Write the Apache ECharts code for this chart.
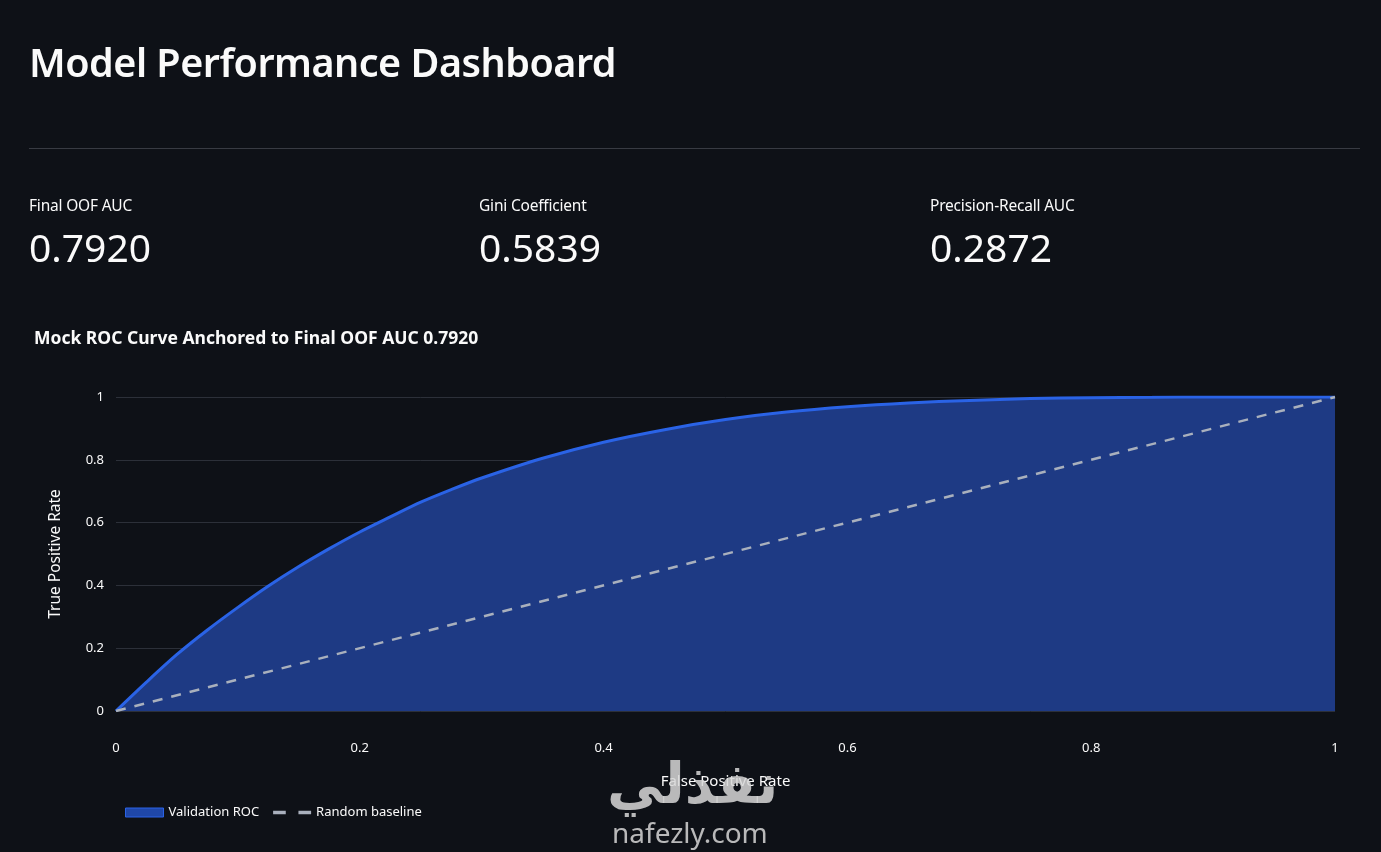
<!DOCTYPE html>
<html>
<head>
<meta charset="utf-8">
<script src="https://cdn.jsdelivr.net/npm/echarts@6/dist/echarts.min.js"></script>
<style>
  html, body { margin: 0; padding: 0; background: #0e1117; width: 1381px; height: 852px; overflow: hidden; }
  body { font-family: "Noto Sans", "Open Sans", sans-serif; color: #fafafa; position: relative; }
  #title { position: absolute; left: 29px; top: 35px; font-size: 39.5px; font-weight: 600; letter-spacing: -0.5px; white-space: nowrap; }
  #rule { position: absolute; left: 29px; top: 148px; width: 1331px; height: 1px; background: #383b43; }
  .metric { position: absolute; top: 194px; }
  .metric .lbl { font-size: 15.5px; line-height: 22px; letter-spacing: -0.2px; }
  .metric .val { font-size: 39px; line-height: 50px; margin-top: 6px; font-weight: 400; }
  #chart { position: absolute; left: 0; top: 0; width: 1381px; height: 852px; }
</style>
</head>
<body>
<div id="chart"></div>
<div id="title">Model Performance Dashboard</div>
<div id="rule"></div>
<div id="metrics"></div>
<script>
// ---- data ----
const metricLabels = ["Final OOF AUC", "Gini Coefficient", "Precision-Recall AUC"];
const metricValues = ["0.7920", "0.5839", "0.2872"];
const chartTitle = "Mock ROC Curve Anchored to Final OOF AUC 0.7920";
const fpr = [0, 0.025, 0.05, 0.075, 0.1, 0.125, 0.15, 0.175, 0.2, 0.225, 0.25, 0.275, 0.3, 0.35, 0.4, 0.45, 0.5, 0.55, 0.6, 0.65, 0.7, 0.75, 0.8, 0.85, 0.9, 0.95, 1];
const tpr = [0, 0.092, 0.18, 0.258, 0.33, 0.398, 0.46, 0.517, 0.57, 0.618, 0.665, 0.705, 0.742, 0.805, 0.856, 0.896, 0.928, 0.952, 0.969, 0.981, 0.989, 0.995, 0.998, 0.999, 1.0, 1.0, 1.0];
const baselineX = [0, 1];
const baselineY = [0, 1];
const seriesNames = ["Validation ROC", "Random baseline"];
const xAxisName = "False Positive Rate";
const yAxisName = "True Positive Rate";
const watermarkAr = "نفذلي";
const watermarkEn = "nafezly.com";

// ---- metrics (HTML) ----
const metricLefts = [29, 479, 930];
const mc = document.getElementById('metrics');
metricLabels.forEach((l, i) => {
  const d = document.createElement('div');
  d.className = 'metric';
  d.style.left = metricLefts[i] + 'px';
  d.innerHTML = '<div class="lbl"></div><div class="val"></div>';
  d.querySelector('.lbl').textContent = l;
  d.querySelector('.val').textContent = metricValues[i];
  mc.appendChild(d);
});

// ---- chart ----
const chart = echarts.init(document.getElementById('chart'), null, { renderer: 'canvas' });
const txt = '#fafafa';
const font = '"Noto Sans", "Open Sans", sans-serif';
const dashColor = '#a9b0bd';
chart.setOption({
  backgroundColor: 'transparent',
  animation: false,
  textStyle: { fontFamily: font },
  title: {
    text: chartTitle, left: 29, top: 325,
    textStyle: { color: txt, fontSize: 17.5, fontWeight: 'bold', fontFamily: font }
  },
  grid: { left: 116, right: 46, top: 397, bottom: 141, containLabel: false },
  legend: {
    left: 120, top: 801, itemGap: 14, itemWidth: 38, itemHeight: 9,
    textStyle: { color: txt, fontSize: 13, fontFamily: font },
    data: [
      { name: seriesNames[0], icon: 'rect', itemStyle: { color: '#1f47a8', borderColor: '#2a63e6', borderWidth: 1 } },
      { name: seriesNames[1], icon: 'path://M0,0H11V3H0Z M22,0H33V3H22Z', itemStyle: { color: dashColor, borderWidth: 0 } }
    ]
  },
  xAxis: {
    type: 'value', min: 0, max: 1, interval: 0.2,
    name: xAxisName, nameLocation: 'middle', nameGap: 63,
    nameTextStyle: { color: txt, fontSize: 15 },
    axisLine: { show: false }, axisTick: { show: false },
    splitLine: { show: false },
    axisLabel: { color: txt, fontSize: 13, margin: 31 }
  },
  yAxis: {
    type: 'value', min: 0, max: 1, interval: 0.2,
    name: yAxisName, nameLocation: 'middle', nameGap: 52,
    nameTextStyle: { color: txt, fontSize: 15.5 },
    axisLine: { show: false }, axisTick: { show: false },
    splitLine: { show: true, lineStyle: { color: '#2c3039', width: 1 } },
    axisLabel: { color: txt, fontSize: 13, margin: 12 }
  },
  series: [
    {
      name: seriesNames[0], type: 'line', showSymbol: false, symbol: 'none',
      smooth: 0.3,
      data: fpr.map((x, i) => [x, tpr[i]]),
      lineStyle: { color: '#2a63e6', width: 3 },
      itemStyle: { color: '#2a63e6' },
      areaStyle: { color: '#1e3a84', opacity: 1 },
      z: 2
    },
    {
      name: seriesNames[1], type: 'line', showSymbol: false, symbol: 'none',
      data: baselineX.map((x, i) => [x, baselineY[i]]),
      lineStyle: { color: dashColor, width: 2.5, type: [10, 9] },
      itemStyle: { color: dashColor },
      z: 3
    }
  ],
  graphic: [
    { type: 'text', left: 607, top: 760, z: 10, silent: true,
      style: { text: watermarkAr, fill: 'rgba(215,215,215,0.85)', font: 'bold 56px "DejaVu Sans", "Noto Sans", sans-serif' } },
    { type: 'text', left: 612, top: 821, z: 10, silent: true,
      style: { text: watermarkEn, fill: 'rgba(215,215,215,0.85)', font: '28px "Noto Sans", sans-serif' } }
  ]
});
</script>
</body>
</html>
